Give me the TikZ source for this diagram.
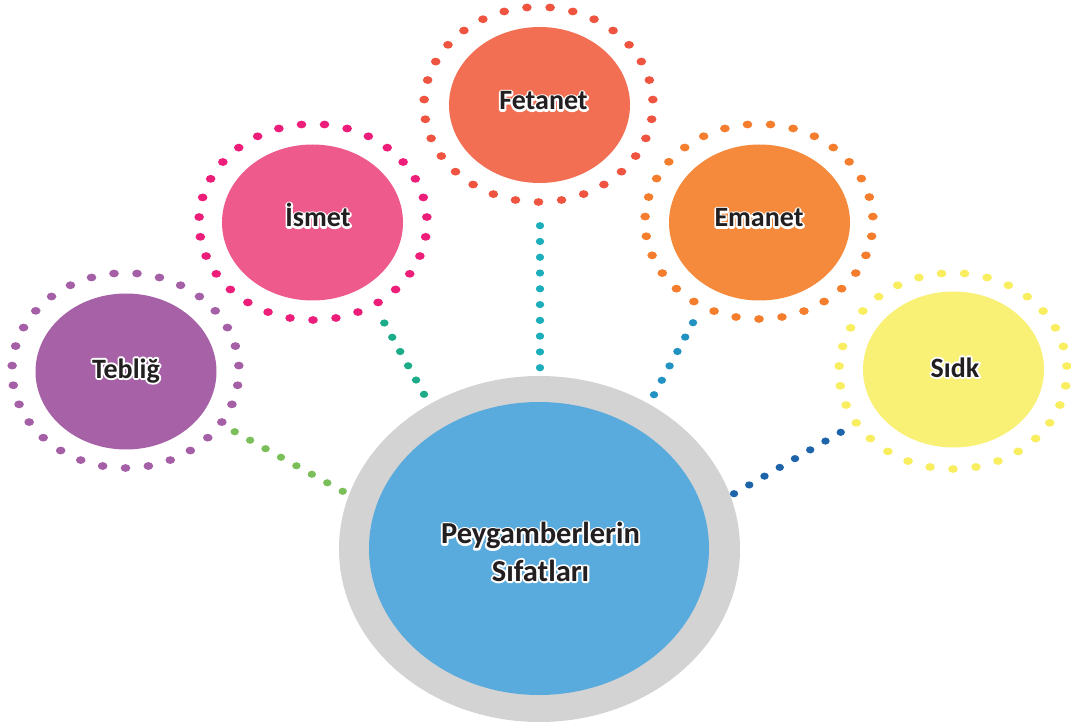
\documentclass[tikz,border=0pt]{standalone}
\usepackage{fontspec}
\setmainfont{Carlito}
\usetikzlibrary{shapes.geometric,calc}
\definecolor{tebfill}{HTML}{A762A7}
\definecolor{tebdot}{HTML}{A45FA6}
\definecolor{ismfill}{HTML}{EF5A8C}
\definecolor{ismdot}{HTML}{EC1E79}
\definecolor{fetfill}{HTML}{F26F53}
\definecolor{fetdot}{HTML}{EF5440}
\definecolor{emafill}{HTML}{F58A3C}
\definecolor{emadot}{HTML}{F47E2E}
\definecolor{sidfill}{HTML}{F9F176}
\definecolor{siddot}{HTML}{F8EE60}
\definecolor{ringgray}{HTML}{D3D3D3}
\definecolor{mainblue}{HTML}{5AABDD}
\definecolor{cgreen}{HTML}{7BBF5A}
\definecolor{cteal}{HTML}{1DAC8A}
\definecolor{ccyan}{HTML}{1CAEBB}
\definecolor{cblue}{HTML}{2192C2}
\definecolor{cdblue}{HTML}{1D64AA}
\definecolor{txt}{HTML}{231F20}
\newcommand\halo[1]{\leavevmode\rlap{\textcolor{white}{\special{pdf:literal direct 2 Tr 3.8 w 1 j}#1\special{pdf:literal direct 0 Tr 0.4 w 0 j}}}#1}
\newcommand\dotring[5]{%
  \foreach \k in {0,...,30}{%
    \fill[#5] ({#1+#3*cos(90+\k*360/31)},{#2+#4*sin(90+\k*360/31)}) ellipse [x radius=4.8pt, y radius=3.9pt];
  }}
\newcommand\dotline[4]{%
  \foreach \i in {0,...,#3}{%
    \fill[#4] ($(#1)!\i/#3!(#2)$) ellipse [x radius=4.2pt, y radius=3.6pt];
  }}
\begin{document}
\begin{tikzpicture}[x=1pt,y=-1pt,
  blob/.style={ellipse, inner sep=0pt, minimum width=181pt, minimum height=156pt},
  lbl/.style={anchor=base, inner sep=0pt, text=txt, font=\fontsize{28}{34}\selectfont\bfseries}]
\useasboundingbox (0,0) rectangle (1071,727);
\fill[white] (0,0) rectangle (1071,727);

% center
\node[ellipse, fill=ringgray, inner sep=0pt, minimum width=401pt, minimum height=346pt] (mainring) at (539.5,549) {};
\node[ellipse, fill=mainblue, inner sep=0pt, minimum width=340pt, minimum height=293pt] (main) at (539,548.5) {};
\node[inner sep=0pt, align=center, text=txt, font=\fontsize{30.5}{37.3}\selectfont\bfseries] (maintext) at (540.5,552) {\halo{Peygamberlerin}\\\halo{Sıfatları}};

% satellites
\dotring{125.5}{370.5}{113.5}{97.5}{tebdot}
\node[blob, fill=tebfill] (teb) at (126,371.5) {};
\node[lbl] (tebt) at (126,378) {\halo{Tebliğ}};

\dotring{313}{222}{114}{98}{ismdot}
\node[blob, fill=ismfill] (ism) at (312.5,222.5) {};
\node[lbl] (ismt) at (318,227) {\halo{İsmet}};

\dotring{538.5}{104.5}{114.5}{97.5}{fetdot}
\node[blob, fill=fetfill] (fet) at (539.5,105) {};
\node[lbl] (fett) at (543.5,110) {\halo{Fetanet}};

\dotring{759}{221.5}{114}{97.5}{emadot}
\node[blob, fill=emafill] (ema) at (759.5,222.5) {};
\node[lbl] (emat) at (759,227) {\halo{Emanet}};

\dotring{953}{371}{114}{98}{siddot}
\node[blob, fill=sidfill] (sid) at (953.5,369.5) {};
\node[lbl] (sidt) at (955,377) {\halo{Sıdk}};

% connectors
\coordinate (g1) at (234.7,431.7); \coordinate (g2) at (342.7,491.3);
\coordinate (t1) at (384.3,323);   \coordinate (t2) at (424,394.3);
\coordinate (c1) at (540,225.7);   \coordinate (c2) at (540,367.7);
\coordinate (b1) at (693,322.7);   \coordinate (b2) at (654,394.7);
\coordinate (d1) at (840.7,432.3); \coordinate (d2) at (734,493.7);
\dotline{g1}{g2}{7}{cgreen}
\dotline{t1}{t2}{5}{cteal}
\dotline{c1}{c2}{9}{ccyan}
\dotline{b1}{b2}{5}{cblue}
\dotline{d1}{d2}{7}{cdblue}
\end{tikzpicture}
\end{document}
